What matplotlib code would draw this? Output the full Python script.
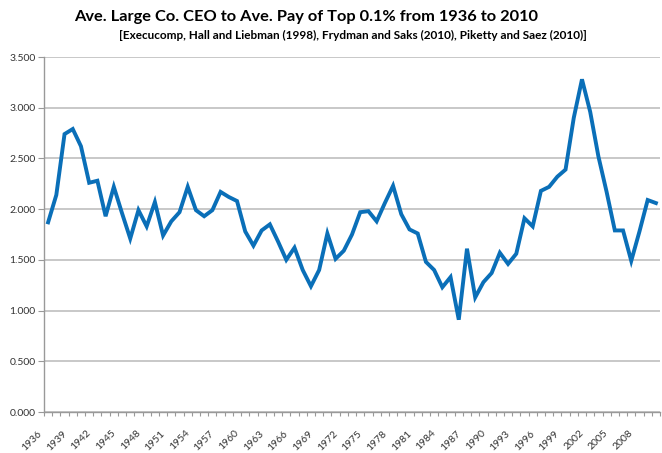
import matplotlib
matplotlib.use("Agg")
import matplotlib.pyplot as plt
import matplotlib.transforms as mtransforms
from matplotlib.ticker import FuncFormatter
import numpy as np

years = list(range(1936, 2011))
ratio = [1.87, 2.14, 2.74, 2.79, 2.62, 2.26, 2.28, 1.93, 2.22, 1.96,
         1.71, 1.99, 1.83, 2.07, 1.74, 1.88, 1.97, 2.22, 1.99, 1.93,
         1.99, 2.17, 2.12, 2.08, 1.78, 1.64, 1.79, 1.85, 1.68, 1.50,
         1.62, 1.40, 1.24, 1.40, 1.76, 1.51, 1.59, 1.75, 1.97, 1.98,
         1.88, 2.06, 2.23, 1.95, 1.80, 1.76, 1.48, 1.40, 1.23, 1.33,
         0.91, 1.61, 1.13, 1.28, 1.37, 1.57, 1.46, 1.56, 1.91, 1.83,
         2.18, 2.22, 2.32, 2.39, 2.90, 3.28, 2.96, 2.52, 2.17, 1.79,
         1.79, 1.49, 1.78, 2.09, 2.06]
label_years = list(range(1936, 2009, 3))
y_ticks = [0.0, 0.5, 1.0, 1.5, 2.0, 2.5, 3.0, 3.5]

title = "Ave. Large Co. CEO to Ave. Pay of Top 0.1% from 1936 to 2010"
subtitle = "[Execucomp, Hall and Liebman (1998), Frydman and Saks (2010), Piketty and Saez (2010)]"

plt.rcParams['font.family'] = ['Lato', 'DejaVu Sans']

W, H = 662, 453
fig = plt.figure(figsize=(W / 100, H / 100), dpi=100)
ax = fig.add_axes([44 / W, (H - 412) / H, (660 - 44) / W, (412 - 57) / H])

x = np.arange(len(years))
ax.plot(x, ratio, color='#0a6fb8', linewidth=2.8, solid_joinstyle='miter', zorder=3)

ax.set_xlim(-0.5, len(years) - 0.5)
ax.set_ylim(0, 3.5)
ax.set_yticks(y_ticks)
ax.yaxis.set_major_formatter(FuncFormatter(lambda v, p: f"{v:.3f}"))
ax.grid(axis='y', color='#bfbfbf', linewidth=1.2, zorder=0)
ax.set_axisbelow(True)

idx = [years.index(y) for y in label_years]
ax.set_xticks(idx)
ax.set_xticklabels([str(y) for y in label_years], rotation=45, ha='right',
                   va='top', rotation_mode='anchor', fontsize=7.5, color='#333333')
ax.set_xticks(np.arange(-0.5, len(years), 1), minor=True)
ax.tick_params(axis='x', which='major', length=0, pad=12)
ax.tick_params(axis='x', which='minor', length=3, color='#999999', width=0.8)
ax.tick_params(axis='y', length=4, color='#999999', width=0.8, labelsize=7.5,
               labelcolor='#333333', pad=2)
offset = mtransforms.ScaledTranslation(-11 / 100, 0, fig.dpi_scale_trans)
for lbl in ax.get_xticklabels():
    lbl.set_transform(lbl.get_transform() + offset)

for s in ['top', 'right']:
    ax.spines[s].set_visible(False)
for s in ['left', 'bottom']:
    ax.spines[s].set_color('#999999')
    ax.spines[s].set_linewidth(1.0)

fig.text(306 / W, 1 - 17 / H, title, ha='center', va='center',
         fontsize=11.8, fontweight='bold', color='black')
fig.text(353 / W, 1 - 35 / H, subtitle, ha='center', va='center',
         fontsize=8.5, fontweight='bold', color='black')

fig.savefig('out.png', dpi=100)
